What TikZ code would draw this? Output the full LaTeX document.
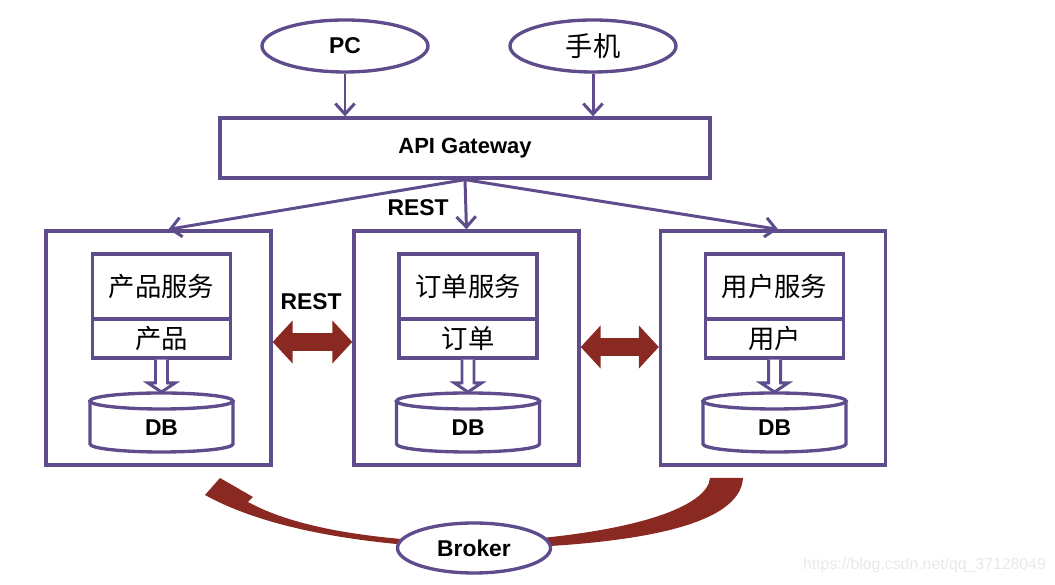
\documentclass[tikz,border=0pt]{standalone}
\usepackage{fontspec}
\setmainfont{Liberation Sans}
\newfontfamily\cjk{Noto Sans CJK SC}
\usetikzlibrary{shapes.geometric,arrows.meta,backgrounds}
\definecolor{frame}{RGB}{94,76,140}
\definecolor{brick}{RGB}{138,40,34}

\begin{document}
\begin{tikzpicture}[
  frameline/.style={draw=frame, line width=1.9pt},
  lbl/.style={font=\bfseries\fontsize{13}{15}\selectfont, inner sep=0pt},
  client/.style={ellipse, frameline, fill=white, inner sep=0pt, minimum width=3.32cm, minimum height=1.04cm},
  gate/.style={rectangle, frameline, inner sep=0pt, minimum width=9.8cm, minimum height=1.2cm},
  svc/.style={rectangle, frameline, minimum width=4.5cm, minimum height=4.68cm},
  part/.style={rectangle, frameline, inner sep=0pt, minimum width=2.76cm, font=\cjk\fontsize{15}{17}\selectfont},
  link/.style={frame, line width=1.7pt, -{Straight Barb[length=6pt,width=11pt]}},
  hollow/.style={draw=frame, fill=white, line width=1.7pt},
  rest/.style={brick, line width=0.36cm, {Triangle[length=0.4cm,width=0.84cm]}-{Triangle[length=0.4cm,width=0.84cm]}}
]
\useasboundingbox (0,0) rectangle (21.1,11.7);
\node[client, lbl] (pc) at (6.9,10.78) {PC};
\node[client, font=\cjk\fontsize{15.5}{17}\selectfont] (phone) at (11.86,10.78) {手机};
\node[gate, font=\bfseries\fontsize{12.5}{14}\selectfont] (gw) at (9.3,8.74) {API Gateway};
\draw[link] (pc.south) -- (pc.south |- gw.north);
\draw[link] (phone.south) -- (phone.south |- gw.north);
\node[svc] (svcA) at (3.17,4.74) {};
\node[svc] (svcB) at (9.33,4.74) {};
\node[svc] (svcC) at (15.46,4.74) {};
\draw[link] (gw.south) -- ([xshift=0.2cm]svcA.north);
\draw[link] (gw.south) -- (svcB.north);
\draw[link] (gw.south) -- ([xshift=0.1cm]svcC.north);
\node[lbl] (restgw) at (8.36,7.54) {REST};
\node[part, minimum height=1.3cm] (innerA1) at (3.23,5.97) {产品服务};
\node[part, minimum height=0.78cm] (innerA2) at (3.23,4.93) {产品};
\node[part, minimum height=1.3cm] (innerB1) at (9.36,5.97) {订单服务};
\node[part, minimum height=0.78cm] (innerB2) at (9.36,4.93) {订单};
\node[part, minimum height=1.3cm] (innerC1) at (15.49,5.97) {用户服务};
\node[part, minimum height=0.78cm] (innerC2) at (15.49,4.93) {用户};
\node[lbl] (dbA) at (3.23,3.14) {DB};
\node[lbl] (dbB) at (9.36,3.14) {DB};
\node[lbl] (dbC) at (15.49,3.14) {DB};
\draw[frameline] ([yshift=0.54cm]dbA.center) ellipse [x radius=1.43, y radius=0.16];
\draw[frameline] ([shift={(-1.43,0.54)}]dbA.center) -- ++(0,-0.86) arc [start angle=180, end angle=360, x radius=1.43, y radius=0.16] -- ++(0,0.86);
\draw[frameline] ([yshift=0.54cm]dbB.center) ellipse [x radius=1.43, y radius=0.16];
\draw[frameline] ([shift={(-1.43,0.54)}]dbB.center) -- ++(0,-0.86) arc [start angle=180, end angle=360, x radius=1.43, y radius=0.16] -- ++(0,0.86);
\draw[frameline] ([yshift=0.54cm]dbC.center) ellipse [x radius=1.43, y radius=0.16];
\draw[frameline] ([shift={(-1.43,0.54)}]dbC.center) -- ++(0,-0.86) arc [start angle=180, end angle=360, x radius=1.43, y radius=0.16] -- ++(0,0.86);
\draw[hollow] ([xshift=-0.12cm]innerA2.south) -- ([shift={(-0.12,0.9)}]dbA.center) -- ([shift={(-0.27,0.9)}]dbA.center) -- ([yshift=0.72cm]dbA.center) -- ([shift={(0.27,0.9)}]dbA.center) -- ([shift={(0.12,0.9)}]dbA.center) -- ([xshift=0.12cm]innerA2.south);
\draw[hollow] ([xshift=-0.12cm]innerB2.south) -- ([shift={(-0.12,0.9)}]dbB.center) -- ([shift={(-0.27,0.9)}]dbB.center) -- ([yshift=0.72cm]dbB.center) -- ([shift={(0.27,0.9)}]dbB.center) -- ([shift={(0.12,0.9)}]dbB.center) -- ([xshift=0.12cm]innerB2.south);
\draw[hollow] ([xshift=-0.12cm]innerC2.south) -- ([shift={(-0.12,0.9)}]dbC.center) -- ([shift={(-0.27,0.9)}]dbC.center) -- ([yshift=0.72cm]dbC.center) -- ([shift={(0.27,0.9)}]dbC.center) -- ([shift={(0.12,0.9)}]dbC.center) -- ([xshift=0.12cm]innerC2.south);
\draw[rest] ([yshift=0.12cm]svcA.east) -- ([yshift=0.12cm]svcB.west);
\draw[rest] ([yshift=0.02cm]svcB.east) -- ([yshift=0.02cm]svcC.west);
\node[lbl] (restab) at (6.22,5.66) {REST};
\node[client, lbl, minimum width=3.06cm, minimum height=1.0cm] (broker) at (9.48,0.74) {Broker};
\begin{scope}[on background layer]
\fill[brick] (14.2,2.14) .. controls (14.16,1.6) and (12.8,1.0) .. (9.48,0.84)
  .. controls (7.2,0.9) and (5.8,1.2) .. (4.96,1.66)
  -- (5.06,1.76) -- (4.4,2.14) -- (4.1,1.8)
  .. controls (5.0,1.3) and (6.6,0.82) .. (9.48,0.72)
  .. controls (12.8,0.78) and (14.8,1.2) .. (14.86,2.14) -- cycle;
\end{scope}
\node[font=\fontsize{9}{11}\selectfont, text=gray!18, inner sep=0pt] (mark) at (18.49,0.4) {https://blog.csdn.net/qq\_37128049};
\end{tikzpicture}
\end{document}
